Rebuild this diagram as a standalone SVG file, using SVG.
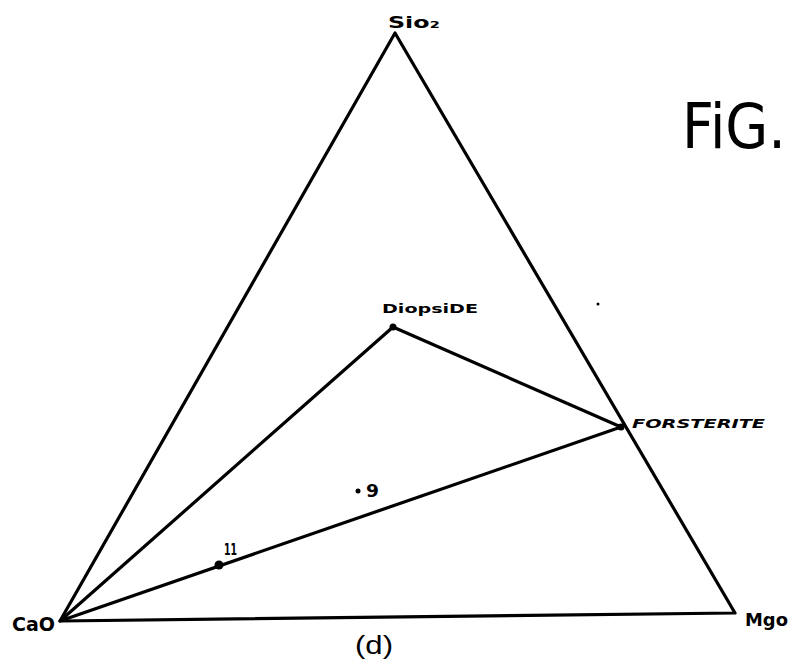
<svg xmlns="http://www.w3.org/2000/svg" width="799" height="669" viewBox="0 0 799 669">
<style>
.ln{stroke:#000;stroke-width:3.2;fill:none;stroke-linecap:round;stroke-linejoin:round}
.t{font-family:"DejaVu Sans","Liberation Sans",sans-serif;fill:#000;font-weight:bold}
.d{fill:#000}
</style>
<rect width="799" height="669" fill="#fff"/>
<g id="connectors">
<path class="ln" d="M60,621 L395,33 L735,613 Z"/>
<path class="ln" d="M60,621 L393,327 L621,427 L60,621"/>
</g>
<g id="sio2"><text class="t" x="388" y="28" font-size="15" textLength="52" lengthAdjust="spacingAndGlyphs">Sio₂</text></g>
<g id="diopside"><circle class="d" cx="393" cy="327" r="3.5"/><text class="t" x="382" y="313" font-size="13" textLength="96" lengthAdjust="spacingAndGlyphs">DiopsiDE</text></g>
<g id="forsterite"><circle class="d" cx="621" cy="427" r="3.5"/><text class="t" x="632" y="428" font-size="13" font-style="italic" textLength="133" lengthAdjust="spacingAndGlyphs">FORSTERITE</text></g>
<g id="cao"><text class="t" x="12" y="631" font-size="19" font-weight="normal" textLength="43" lengthAdjust="spacingAndGlyphs">CaO</text></g>
<g id="mgo"><text class="t" x="745" y="626" font-size="18" font-weight="normal" textLength="43" lengthAdjust="spacingAndGlyphs">Mgo</text></g>
<g id="label-d"><text x="355" y="654" font-family="Liberation Sans, sans-serif" font-size="26" textLength="38" lengthAdjust="spacingAndGlyphs">(d)</text></g>
<g id="fig"><text x="682" y="148" font-family="DejaVu Sans, sans-serif" font-size="62" textLength="104" lengthAdjust="spacingAndGlyphs">FiG.</text></g>
<g id="p11"><circle class="d" cx="219" cy="565" r="4.5"/><text class="t" x="224" y="555" font-size="15" font-weight="normal" textLength="13" lengthAdjust="spacingAndGlyphs">11</text></g>
<g id="p9"><circle class="d" cx="358" cy="491" r="2.5"/><text class="t" x="366" y="497" font-size="17" textLength="13" lengthAdjust="spacingAndGlyphs">9</text></g>
<circle class="d" cx="598" cy="304" r="1.5"/>
</svg>
